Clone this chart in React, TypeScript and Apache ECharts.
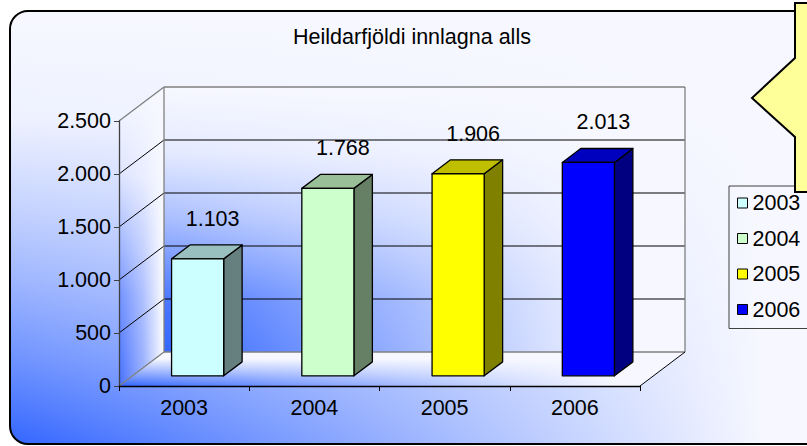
import React, { useEffect, useRef } from 'react';
import * as echarts from 'echarts';

const categories = ['2003', '2004', '2005', '2006'];
const seriesNames = ['2003', '2004', '2005', '2006'];
const values = [1103, 1768, 1906, 2013];
const yTicks = [0, 500, 1000, 1500, 2000, 2500];
const titleText = 'Heildarfjöldi innlagna alls';

const frontColors = ['#CCFFFF', '#CCFFCC', '#FFFF00', '#0000FF'];
const topColors = ['#99BFBF', '#99BF99', '#BFBF00', '#0000BF'];
const sideColors = ['#668080', '#668066', '#808000', '#000080'];

const FONT = '"Liberation Sans", Arial, Helvetica, sans-serif';
const FS = 21.5;
const DX = 45;
const DY = -34;
const BAR_FRONT = 0.3;
const BAR_DEPTH = 0.41;
const BAR_WIDTH = 0.4;
const BLUE = '#3366FF';
const PALE = '#F7F8FF';

const fmt = (v: number) => String(v).replace(/\B(?=(\d{3})+(?!\d))/g, '.');

const cornerFill = (end: number) =>
  new echarts.graphic.LinearGradient(0, 0, 1, 0, [
    { offset: 0, color: BLUE },
    { offset: end, color: PALE },
    { offset: 1, color: PALE },
  ]);

const fade = (stops: number[][]) =>
  new echarts.graphic.LinearGradient(
    0,
    0,
    0,
    1,
    stops.map(([o, a]) => ({ offset: o, color: `rgba(247,248,255,${a})` }))
  );

const outerFadeStops = [
  [0, 1],
  [0.25, 0.95],
  [0.44, 0.76],
  [0.62, 0.55],
  [0.8, 0.31],
  [1, 0],
];
const wallFadeStops = [
  [0, 1],
  [0.25, 0.9],
  [0.5, 0.6],
  [0.8, 0.12],
  [1, 0],
];
const floorFadeStops = [
  [0, 1],
  [0.2, 1],
  [1, 0],
];
const sideFadeStops = [
  [0, 1],
  [0.3, 0.85],
  [0.7, 0.25],
  [1, 0],
];

const renderWalls = (params: any, api: any) => {
  const cs = params.coordSys;
  const x0 = cs.x;
  const x1 = cs.x + cs.width;
  const yb = api.coord([0, yTicks[0]])[1];
  const yt = api.coord([0, yTicks[yTicks.length - 1]])[1];
  const back = [
    [x0 + DX, yt + DY],
    [x1 + DX, yt + DY],
    [x1 + DX, yb + DY],
    [x0 + DX, yb + DY],
  ];
  const side = [
    [x0, yb],
    [x0, yt],
    [x0 + DX, yt + DY],
    [x0 + DX, yb + DY],
  ];
  const floor = [
    [x0, yb],
    [x1, yb],
    [x1 + DX, yb + DY],
    [x0 + DX, yb + DY],
  ];
  const children: any[] = [
    { type: 'polygon', shape: { points: back }, style: { fill: cornerFill(0.88) } },
    { type: 'polygon', shape: { points: back }, style: { fill: fade(wallFadeStops) } },
    {
      type: 'polygon',
      shape: { points: side },
      style: {
        fill: new echarts.graphic.LinearGradient(0, 0, 1, 0, [
          { offset: 0, color: '#4570FF' },
          { offset: 0.55, color: '#9AB0FF' },
          { offset: 1, color: '#FFFFFF' },
        ]),
      },
    },
    { type: 'polygon', shape: { points: side }, style: { fill: fade(sideFadeStops) } },
    { type: 'polygon', shape: { points: floor }, style: { fill: cornerFill(0.88) } },
    { type: 'polygon', shape: { points: floor }, style: { fill: fade(floorFadeStops) } },
  ];
  const gray = { stroke: '#808080', lineWidth: 1.3 };
  yTicks.forEach((v, i) => {
    const y = api.coord([0, v])[1];
    const edge = i === 0 || i === yTicks.length - 1;
    const st = edge ? gray : { stroke: '#000', lineWidth: 1 };
    children.push({ type: 'line', shape: { x1: x0, y1: y, x2: x0 + DX, y2: y + DY }, style: st });
    children.push({ type: 'line', shape: { x1: x0 + DX, y1: y + DY, x2: x1 + DX, y2: y + DY }, style: st });
  });
  children.push({ type: 'line', shape: { x1: x0 + DX, y1: yt + DY, x2: x0 + DX, y2: yb + DY }, style: gray });
  children.push({ type: 'line', shape: { x1: x1 + DX, y1: yt + DY, x2: x1 + DX, y2: yb + DY }, style: gray });
  children.push({ type: 'line', shape: { x1: x1, y1: yb, x2: x1 + DX, y2: yb + DY }, style: { stroke: '#000', lineWidth: 1 } });
  return { type: 'group', children };
};

const makeBarRender = (k: number) => (params: any, api: any) => {
  const cat = api.value(0);
  const val = api.value(1);
  const top = api.coord([cat, val]);
  const base = api.coord([cat, 0]);
  const band = api.size([1, 0])[0];
  const w = band * BAR_WIDTH;
  const fx = DX * BAR_FRONT;
  const fy = DY * BAR_FRONT;
  const ddx = DX * BAR_DEPTH;
  const ddy = DY * BAR_DEPTH;
  const xL = top[0] - w / 2 + fx;
  const xR = xL + w;
  const yT = top[1] + fy;
  const yB = base[1] + fy;
  const stroke = { stroke: '#000', lineWidth: 1.3, lineJoin: 'round' };
  return {
    type: 'group',
    children: [
      {
        type: 'polygon',
        shape: { points: [[xR, yT], [xR + ddx, yT + ddy], [xR + ddx, yB + ddy], [xR, yB]] },
        style: { fill: sideColors[k], ...stroke },
      },
      {
        type: 'polygon',
        shape: { points: [[xL, yT], [xR, yT], [xR + ddx, yT + ddy], [xL + ddx, yT + ddy]] },
        style: { fill: topColors[k], ...stroke },
      },
      {
        type: 'rect',
        shape: { x: xL, y: yT, width: w, height: yB - yT },
        style: { fill: frontColors[k], ...stroke },
      },
      {
        type: 'text',
        x: (xL + xR) / 2 + 15,
        y: yT - 40,
        style: {
          text: fmt(val),
          fill: '#000',
          font: `${FS}px ${FONT}`,
          align: 'center',
          verticalAlign: 'middle',
          textAlign: 'center',
          textVerticalAlign: 'middle',
        },
      },
    ],
  };
};

export default function App() {
  const ref = useRef<HTMLDivElement>(null);
  useEffect(() => {
    const chart = echarts.init(ref.current!, null, { renderer: 'svg' });
    const bgShape = { x: 10, y: 11, width: 840, height: 433, r: 18 };
    const option: any = {
      animation: false,
      textStyle: { fontFamily: FONT },
      title: {
        text: titleText,
        left: 412,
        top: 26,
        padding: 0,
        textAlign: 'center',
        textStyle: { fontSize: FS, fontWeight: 'normal', color: '#000', fontFamily: FONT },
      },
      graphic: {
        elements: [
          { type: 'rect', z: -10, silent: true, shape: bgShape, style: { fill: cornerFill(0.9) } },
          { type: 'rect', z: -9, silent: true, shape: bgShape, style: { fill: fade(outerFadeStops) } },
          {
            type: 'rect',
            z: -8,
            silent: true,
            shape: bgShape,
            style: { fill: 'none', stroke: '#000', lineWidth: 2 },
          },
          {
            type: 'polygon',
            z: 100,
            silent: true,
            shape: {
              points: [
                [795, 3],
                [830, 3],
                [830, 192],
                [795, 192],
                [795, 137],
                [752, 98],
                [795, 58],
              ],
            },
            style: { fill: '#FFFF99', stroke: '#000', lineWidth: 2 },
          },
        ],
      },
      legend: {
        orient: 'vertical',
        left: 729,
        top: 186,
        padding: [6, 15, 8, 8],
        itemGap: 13.5,
        itemWidth: 10,
        itemHeight: 10,
        borderColor: '#404040',
        borderWidth: 1,
        backgroundColor: 'transparent',
        icon: 'rect',
        textStyle: { fontSize: FS, color: '#000', fontFamily: FONT },
        data: seriesNames.map((n, i) => ({
          name: n,
          icon: 'rect',
          itemStyle: { color: frontColors[i], borderColor: '#000', borderWidth: 1 },
        })),
      },
      grid: { left: 119, top: 121, width: 521, height: 265, containLabel: false },
      xAxis: {
        type: 'category',
        data: categories,
        z: 5,
        axisLine: { lineStyle: { color: '#000', width: 1.3 } },
        axisTick: { show: true, length: 5, lineStyle: { color: '#000' } },
        axisLabel: { fontSize: FS, color: '#000', margin: 11, fontFamily: FONT },
        splitLine: { show: false },
      },
      yAxis: {
        type: 'value',
        min: yTicks[0],
        max: yTicks[yTicks.length - 1],
        interval: yTicks[1] - yTicks[0],
        z: 5,
        axisLine: { show: true, lineStyle: { color: '#404040', width: 1.3 } },
        axisTick: { show: true, length: 5, lineStyle: { color: '#404040' } },
        axisLabel: {
          fontSize: FS,
          color: '#000',
          margin: 8,
          fontFamily: FONT,
          formatter: (v: number) => fmt(v),
        },
        splitLine: { show: false },
      },
      series: [
        {
          type: 'custom',
          name: '__walls',
          z: 1,
          silent: true,
          renderItem: renderWalls,
          data: [[0, 0]],
          encode: { x: 0, y: 1 },
        },
        ...seriesNames.map((n, k) => ({
          type: 'custom',
          name: n,
          z: 3,
          silent: true,
          itemStyle: { color: frontColors[k] },
          renderItem: makeBarRender(k),
          data: [[k, values[k]]],
          encode: { x: 0, y: 1 },
        })),
      ],
    };
    chart.setOption(option);
    return () => chart.dispose();
  }, []);
  return (
    <div
      ref={ref}
      style={{ position: 'absolute', left: 0, top: 0, width: 807, height: 446 }}
    />
  );
}
